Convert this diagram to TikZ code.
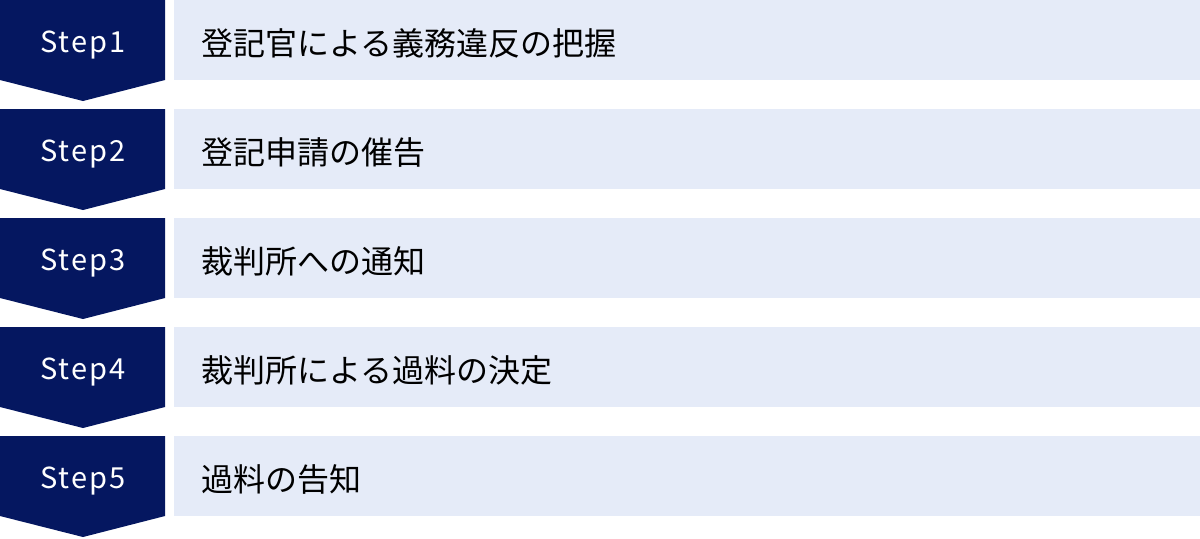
\documentclass[tikz,border=0pt]{standalone}
\usepackage{fontspec}
\setmainfont{Noto Sans CJK JP}
\newfontfamily\stepfont[LetterSpace=7.5]{Noto Sans CJK JP}
\usepackage{tikz}
\definecolor{stepnavy}{RGB}{5,23,96}
\definecolor{rowblue}{RGB}{229,235,248}

\begin{document}
\begin{tikzpicture}[x=0.5pt,y=-0.5pt,
  steplabel/.style={text=white, anchor=base, font=\stepfont\fontsize{14.5}{16}\selectfont, inner sep=0pt},
  rowbox/.style={fill=rowblue, anchor=north west, minimum width=513pt, minimum height=40pt, inner sep=0pt},
  rowtext/.style={anchor=west, font=\fontsize{16}{18}\selectfont, inner sep=0pt}]
\useasboundingbox (0,0) rectangle (1200,538);

\fill[stepnavy] (0,0) -- (165,0) -- (165,80) -- (83,101) -- (0,80) -- cycle;
\node[steplabel] (step1) at (83,52) {Step1};
\node[rowbox] (row1) at (174,0) {};
\node[rowtext] (text1) at (201,43) {登記官による義務違反の把握};

\fill[stepnavy] (0,109) -- (165,109) -- (165,189) -- (83,210) -- (0,189) -- cycle;
\node[steplabel] (step2) at (83,161) {Step2};
\node[rowbox] (row2) at (174,109) {};
\node[rowtext] (text2) at (201,152) {登記申請の催告};

\fill[stepnavy] (0,218) -- (165,218) -- (165,298) -- (83,319) -- (0,298) -- cycle;
\node[steplabel] (step3) at (83,270) {Step3};
\node[rowbox] (row3) at (174,218) {};
\node[rowtext] (text3) at (201,261) {裁判所への通知};

\fill[stepnavy] (0,327) -- (165,327) -- (165,407) -- (83,428) -- (0,407) -- cycle;
\node[steplabel] (step4) at (83,379) {Step4};
\node[rowbox] (row4) at (174,327) {};
\node[rowtext] (text4) at (201,370) {裁判所による過料の決定};

\fill[stepnavy] (0,436) -- (165,436) -- (165,516) -- (83,537) -- (0,516) -- cycle;
\node[steplabel] (step5) at (83,488) {Step5};
\node[rowbox] (row5) at (174,436) {};
\node[rowtext] (text5) at (201,479) {過料の告知};
\end{tikzpicture}
\end{document}
